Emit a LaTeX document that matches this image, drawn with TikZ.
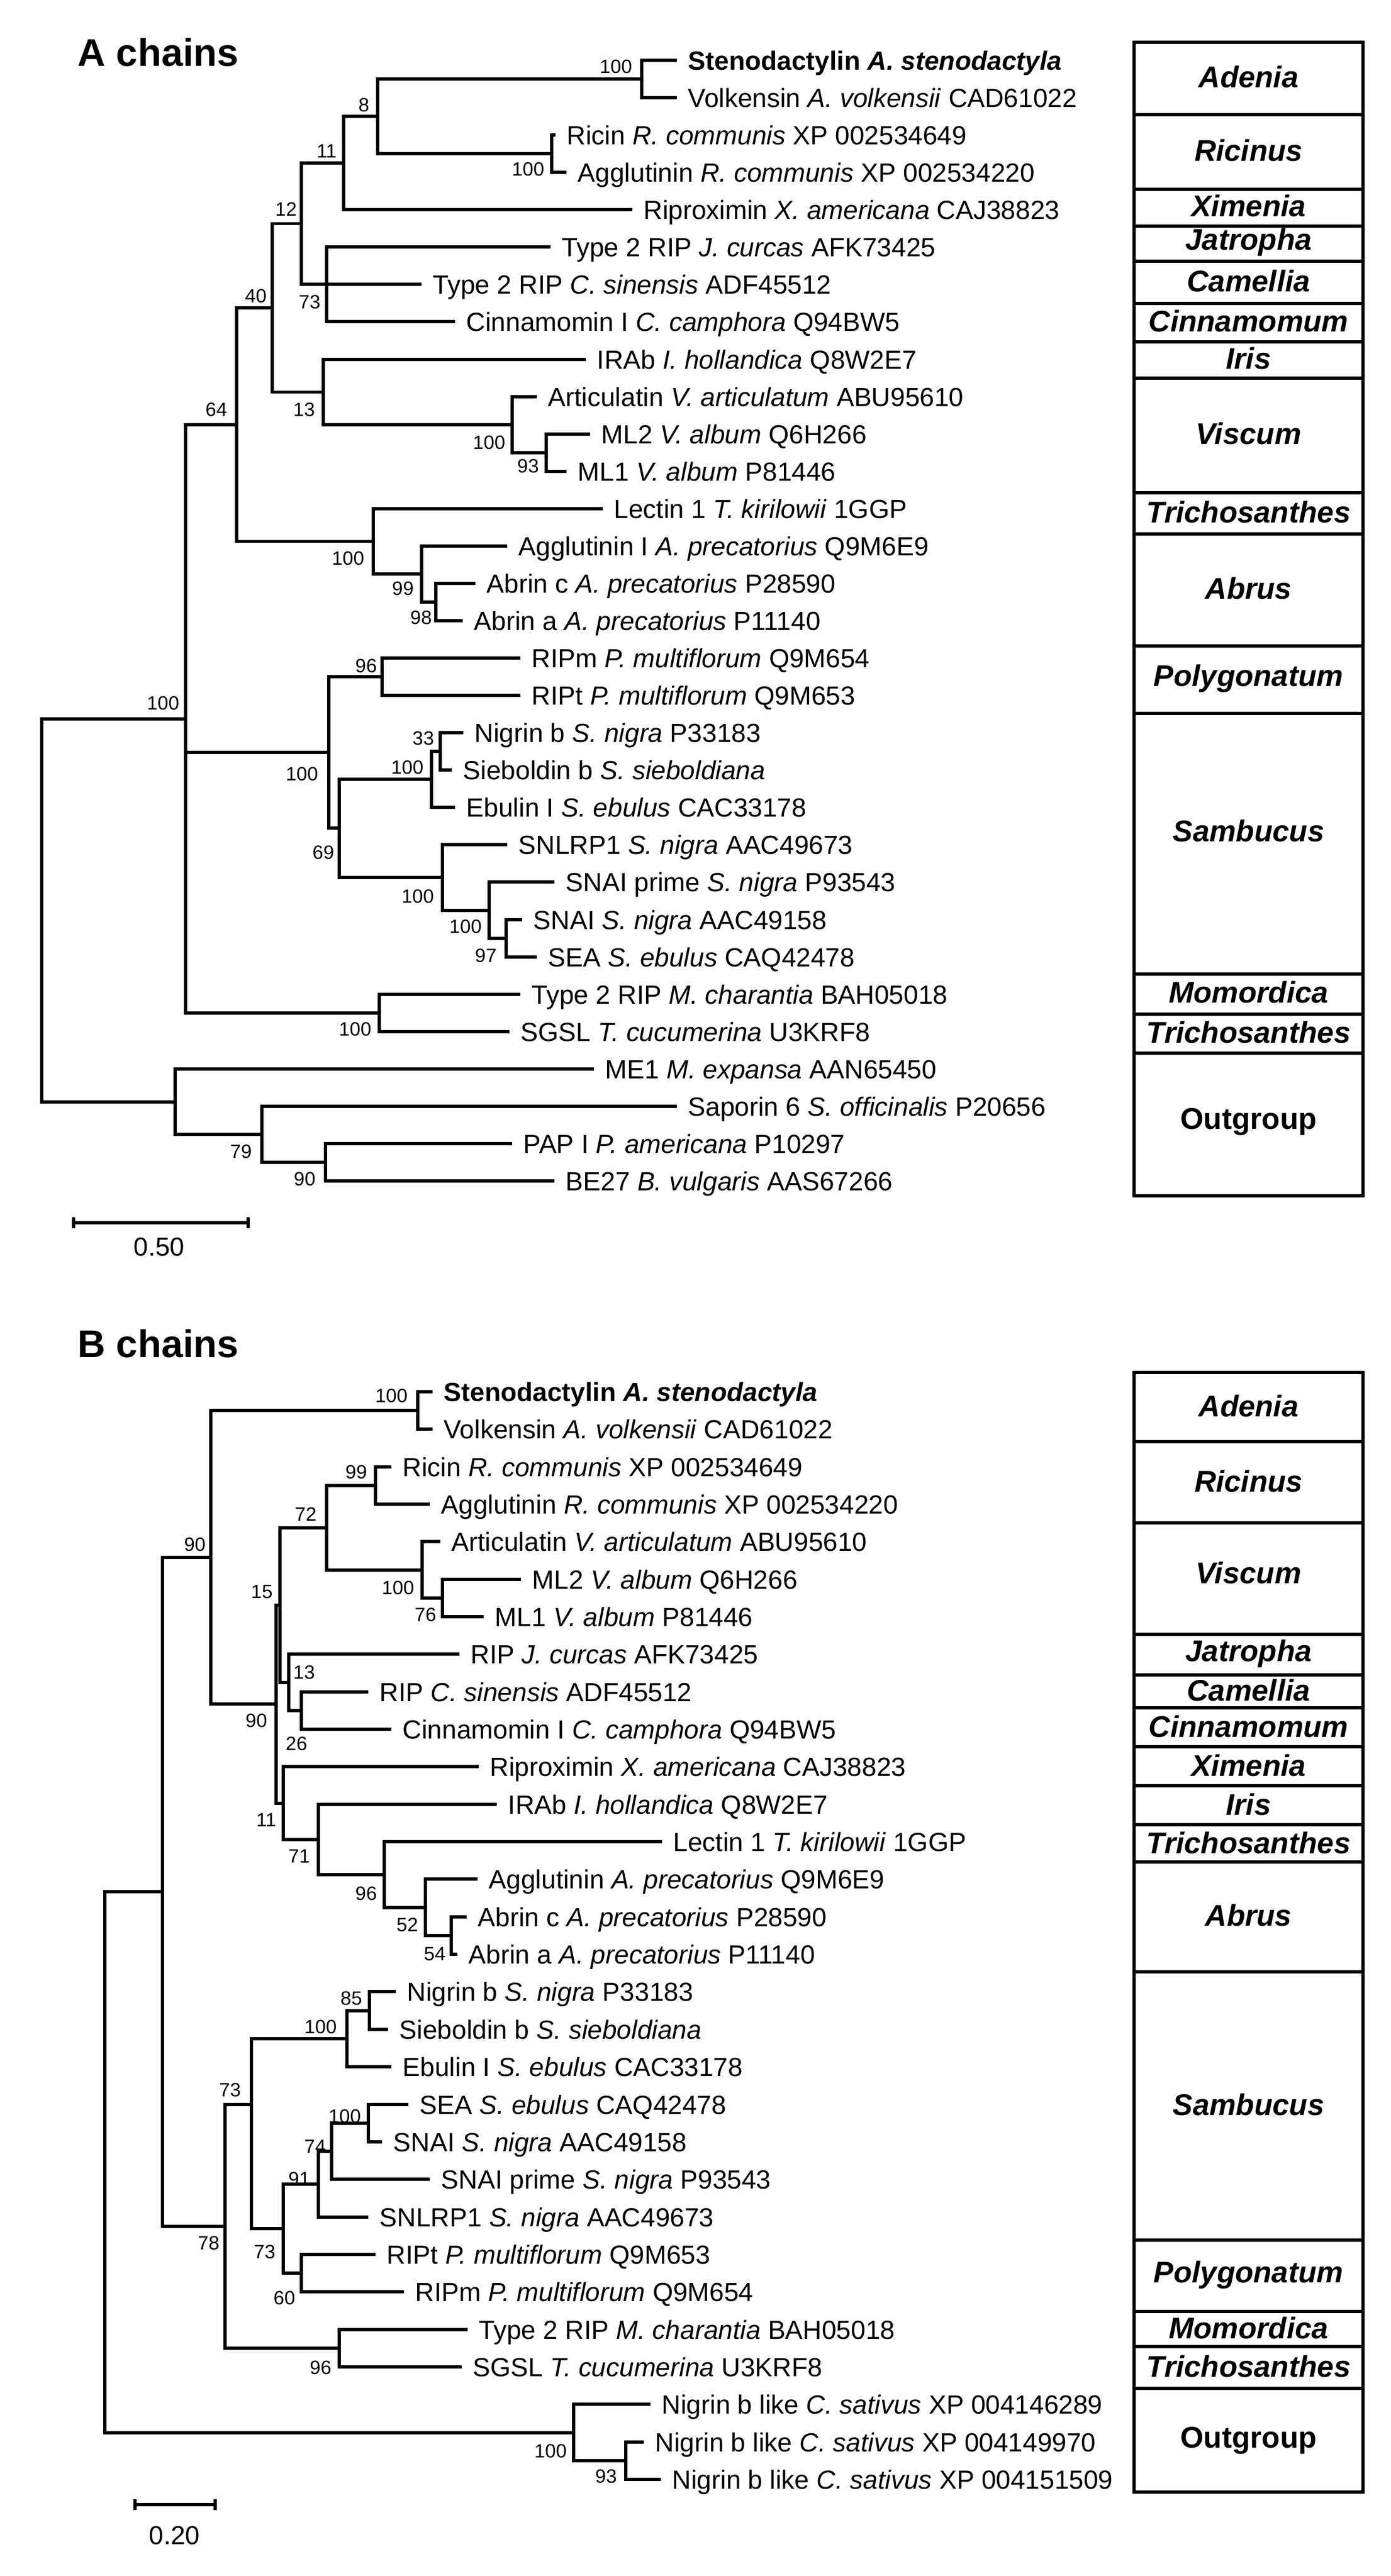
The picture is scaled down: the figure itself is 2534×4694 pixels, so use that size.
\documentclass[tikz,border=0pt]{standalone}
\usepackage{fontspec}
\setmainfont{Liberation Sans}
\begin{document}
\begin{tikzpicture}[x=0.01cm,y=-0.01cm,
  br/.style={line width=1.7pt,line join=miter},
  lf/.style={anchor=west,inner xsep=0.2cm,inner ysep=0pt,text height=0.34cm,text depth=0pt,font=\fontsize{13.6}{16}\selectfont},
  bs/.style={inner sep=0pt,font=\fontsize{10}{12}\selectfont},
  gl/.style={inner sep=0pt,font=\bfseries\itshape\fontsize{15.5}{18}\selectfont},
  ttl/.style={anchor=base west,inner sep=0pt,font=\bfseries\fontsize{20}{24}\selectfont},
  bx/.style={line width=1.7pt}]
\useasboundingbox (0,0) rectangle (2534,4694);
\fill[white] (0,0) rectangle (2534,4694);
% ================= A chains =================
\node[ttl] (tA) at (141,121) {A chains};
\node[lf] (a1) at (1233,110) {\textbf{Stenodactylin \textit{A. stenodactyla}}};
\node[lf] (a2) at (1233,178) {Volkensin \textit{A. volkensii} CAD61022};
\node[lf] (a3) at (1012,246) {Ricin \textit{R. communis} XP 002534649};
\node[lf] (a4) at (1032,314) {Agglutinin \textit{R. communis} XP 002534220};
\node[lf] (a5) at (1152,382) {Riproximin \textit{X. americana} CAJ38823};
\node[lf] (a6) at (1003,450) {Type 2 RIP \textit{J. curcas} AFK73425};
\node[lf] (a7) at (768,518) {Type 2 RIP \textit{C. sinensis} ADF45512};
\node[lf] (a8) at (829,586) {Cinnamomin I \textit{C. camphora} Q94BW5};
\node[lf] (a9) at (1067,655) {IRAb \textit{I. hollandica} Q8W2E7};
\node[lf] (a10) at (978,723) {Articulatin \textit{V. articulatum} ABU95610};
\node[lf] (a11) at (1075,791) {ML2 \textit{V. album} Q6H266};
\node[lf] (a12) at (1032,859) {ML1 \textit{V. album} P81446};
\node[lf] (a13) at (1098,927) {Lectin 1 \textit{T. kirilowii} 1GGP};
\node[lf] (a14) at (924,995) {Agglutinin I \textit{A. precatorius} Q9M6E9};
\node[lf] (a15) at (866,1063) {Abrin c \textit{A. precatorius} P28590};
\node[lf] (a16) at (843,1131) {Abrin a \textit{A. precatorius} P11140};
\node[lf] (a17) at (948,1199) {RIPm \textit{P. multiflorum} Q9M654};
\node[lf] (a18) at (948,1267) {RIPt \textit{P. multiflorum} Q9M653};
\node[lf] (a19) at (844,1335) {Nigrin b \textit{S. nigra} P33183};
\node[lf] (a20) at (823,1403) {Sieboldin b \textit{S. sieboldiana}};
\node[lf] (a21) at (829,1471) {Ebulin I \textit{S. ebulus} CAC33178};
\node[lf] (a22) at (924,1539) {SNLRP1 \textit{S. nigra} AAC49673};
\node[lf] (a23) at (1010,1607) {SNAI prime \textit{S. nigra} P93543};
\node[lf] (a24) at (951,1676) {SNAI \textit{S. nigra} AAC49158};
\node[lf] (a25) at (978,1744) {SEA \textit{S. ebulus} CAQ42478};
\node[lf] (a26) at (948,1812) {Type 2 RIP \textit{M. charantia} BAH05018};
\node[lf] (a27) at (928,1880) {SGSL \textit{T. cucumerina} U3KRF8};
\node[lf] (a28) at (1082,1948) {ME1 \textit{M. expansa} AAN65450};
\node[lf] (a29) at (1233,2016) {Saporin 6 \textit{S. officinalis} P20656};
\node[lf] (a30) at (933,2084) {PAP I \textit{P. americana} P10297};
\node[lf] (a31) at (1010,2152) {BE27 \textit{B. vulgaris} AAS67266};
\coordinate (Ad) at (1169,144);
\coordinate (Ri) at (1005,280);
\coordinate (A8) at (688,212);
\coordinate (A11) at (626,297);
\coordinate (A73) at (595,518);
\coordinate (A12) at (549,407.5);
\coordinate (A93) at (995,825);
\coordinate (AVi) at (933,774);
\coordinate (A13) at (589,714.5);
\coordinate (A40) at (496,561);
\coordinate (A98) at (794,1097);
\coordinate (A99) at (768,1046);
\coordinate (AAb) at (680,986.5);
\coordinate (A64) at (431,773.75);
\coordinate (A96) at (696,1233);
\coordinate (A33) at (802,1369);
\coordinate (AS1) at (786,1420);
\coordinate (A97) at (922,1710);
\coordinate (AS3) at (891,1658.5);
\coordinate (AS2) at (806,1598.75);
\coordinate (A69) at (618,1509.4);
\coordinate (APS) at (599,1371.2);
\coordinate (AMo) at (691,1846);
\coordinate (AIn) at (338,1309.9);
\coordinate (A90) at (593,2118);
\coordinate (A79) at (477,2067);
\coordinate (AOut) at (319,2007.5);
\coordinate (ARoot) at (76,1658.7);
\draw[br] (Ad) |- (a1.west); \draw[br] (Ad) |- (a2.west);
\draw[br] (Ri) |- (a3.west); \draw[br] (Ri) |- (a4.west);
\draw[br] (A8) |- (Ad); \draw[br] (A8) |- (Ri);
\draw[br] (A11) |- (A8); \draw[br] (A11) |- (a5.west);
\draw[br] (A73) |- (a6.west); \draw[br] (A73) |- (a7.west); \draw[br] (A73) |- (a8.west);
\draw[br] (A12) |- (A11); \draw[br] (A12) |- (A73);
\draw[br] (A93) |- (a11.west); \draw[br] (A93) |- (a12.west);
\draw[br] (AVi) |- (a10.west); \draw[br] (AVi) |- (A93);
\draw[br] (A13) |- (a9.west); \draw[br] (A13) |- (AVi);
\draw[br] (A40) |- (A12); \draw[br] (A40) |- (A13);
\draw[br] (A98) |- (a15.west); \draw[br] (A98) |- (a16.west);
\draw[br] (A99) |- (a14.west); \draw[br] (A99) |- (A98);
\draw[br] (AAb) |- (a13.west); \draw[br] (AAb) |- (A99);
\draw[br] (A64) |- (A40); \draw[br] (A64) |- (AAb);
\draw[br] (A96) |- (a17.west); \draw[br] (A96) |- (a18.west);
\draw[br] (A33) |- (a19.west); \draw[br] (A33) |- (a20.west);
\draw[br] (AS1) |- (A33); \draw[br] (AS1) |- (a21.west);
\draw[br] (A97) |- (a24.west); \draw[br] (A97) |- (a25.west);
\draw[br] (AS3) |- (a23.west); \draw[br] (AS3) |- (A97);
\draw[br] (AS2) |- (a22.west); \draw[br] (AS2) |- (AS3);
\draw[br] (A69) |- (AS1); \draw[br] (A69) |- (AS2);
\draw[br] (APS) |- (A96); \draw[br] (APS) |- (A69);
\draw[br] (AMo) |- (a26.west); \draw[br] (AMo) |- (a27.west);
\draw[br] (AIn) |- (A64); \draw[br] (AIn) |- (APS); \draw[br] (AIn) |- (AMo);
\draw[br] (A90) |- (a30.west); \draw[br] (A90) |- (a31.west);
\draw[br] (A79) |- (a29.west); \draw[br] (A79) |- (A90);
\draw[br] (AOut) |- (a28.west); \draw[br] (AOut) |- (A79);
\draw[br] (ARoot) |- (AIn); \draw[br] (ARoot) |- (AOut);
% bootstrap A
\node[bs] (ba1) at (1122,121) {100};
\node[bs] (ba2) at (962,308) {100};
\node[bs] (ba3) at (663,191) {8};
\node[bs] (ba4) at (595,275) {11};
\node[bs] (ba5) at (521,381) {12};
\node[bs] (ba6) at (466,539) {40};
\node[bs] (ba7) at (394,746) {64};
\node[bs] (ba8) at (564,550) {73};
\node[bs] (ba9) at (554,746) {13};
\node[bs] (ba10) at (891,806) {100};
\node[bs] (ba11) at (962,849) {93};
\node[bs] (ba12) at (634,1017) {100};
\node[bs] (ba13) at (734,1072) {99};
\node[bs] (ba14) at (767,1125) {98};
\node[bs] (ba15) at (667,1213) {96};
\node[bs] (ba16) at (297,1281) {100};
\node[bs] (ba17) at (550,1410) {100};
\node[bs] (ba18) at (589,1553) {69};
\node[bs] (ba19) at (771,1345) {33};
\node[bs] (ba20) at (742,1398) {100};
\node[bs] (ba21) at (761,1633) {100};
\node[bs] (ba22) at (848,1688) {100};
\node[bs] (ba23) at (885,1741) {97};
\node[bs] (ba24) at (647,1875) {100};
\node[bs] (ba25) at (439,2098) {79};
\node[bs] (ba26) at (555,2148) {90};
% scale A
\coordinate (sA1) at (134,2228); \coordinate (sA2) at (452,2228);
\draw[br] (sA1) -- (sA2);
\draw[br] ([yshift=0.1cm]sA1) -- ([yshift=-0.1cm]sA1);
\draw[br] ([yshift=0.1cm]sA2) -- ([yshift=-0.1cm]sA2);
\node[inner sep=0pt,font=\fontsize{13.5}{16}\selectfont] (sAl) at (290,2272) {0.50};
% box A
\draw[bx] (2066,77) rectangle (2483,2179);
\foreach \yy in {209,345,412,476,553,623,689,898,973,1177,1300,1775,1848,1919}
  \draw[bx] (2066,\yy) -- (2483,\yy);
\node[gl] (gA1) at (2274.5,140) {Adenia};
\node[gl] (gA2) at (2274.5,274) {Ricinus};
\node[gl] (gA3) at (2274.5,375) {Ximenia};
\node[gl] (gA4) at (2274.5,441) {Jatropha};
\node[gl] (gA5) at (2274.5,512) {Camellia};
\node[gl] (gA6) at (2274.5,585) {Cinnamomum};
\node[gl] (gA7) at (2274.5,653) {Iris};
\node[gl] (gA8) at (2274.5,790) {Viscum};
\node[gl] (gA9) at (2274.5,933) {Trichosanthes};
\node[gl] (gA10) at (2274.5,1072) {Abrus};
\node[gl] (gA11) at (2274.5,1236) {Polygonatum};
\node[gl] (gA12) at (2274.5,1514) {Sambucus};
\node[gl] (gA13) at (2274.5,1808) {Momordica};
\node[gl] (gA14) at (2274.5,1881) {Trichosanthes};
\node[inner sep=0pt,font=\bfseries\fontsize{15.5}{18}\selectfont] (gA15) at (2274.5,2044) {Outgroup};
% ================= B chains =================
\node[ttl] (tB) at (141,2473) {B chains};
\node[lf] (b1) at (788,2536) {\textbf{Stenodactylin \textit{A. stenodactyla}}};
\node[lf] (b2) at (788,2604) {Volkensin \textit{A. volkensii} CAD61022};
\node[lf] (b3) at (713,2673) {Ricin \textit{R. communis} XP 002534649};
\node[lf] (b4) at (783,2741) {Agglutinin \textit{R. communis} XP 002534220};
\node[lf] (b5) at (802,2809) {Articulatin \textit{V. articulatum} ABU95610};
\node[lf] (b6) at (949,2878) {ML2 \textit{V. album} Q6H266};
\node[lf] (b7) at (881,2946) {ML1 \textit{V. album} P81446};
\node[lf] (b8) at (837,3014) {RIP \textit{J. curcas} AFK73425};
\node[lf] (b9) at (671,3083) {RIP \textit{C. sinensis} ADF45512};
\node[lf] (b10) at (713,3151) {Cinnamomin I \textit{C. camphora} Q94BW5};
\node[lf] (b11) at (872,3219) {Riproximin \textit{X. americana} CAJ38823};
\node[lf] (b12) at (905,3288) {IRAb \textit{I. hollandica} Q8W2E7};
\node[lf] (b13) at (1206,3356) {Lectin 1 \textit{T. kirilowii} 1GGP};
\node[lf] (b14) at (870,3424) {Agglutinin \textit{A. precatorius} Q9M6E9};
\node[lf] (b15) at (850,3493) {Abrin c \textit{A. precatorius} P28590};
\node[lf] (b16) at (833,3561) {Abrin a \textit{A. precatorius} P11140};
\node[lf] (b17) at (721,3629) {Nigrin b \textit{S. nigra} P33183};
\node[lf] (b18) at (707,3698) {Sieboldin b \textit{S. sieboldiana}};
\node[lf] (b19) at (713,3766) {Ebulin I \textit{S. ebulus} CAC33178};
\node[lf] (b20) at (744,3835) {SEA \textit{S. ebulus} CAQ42478};
\node[lf] (b21) at (696,3903) {SNAI \textit{S. nigra} AAC49158};
\node[lf] (b22) at (783,3971) {SNAI prime \textit{S. nigra} P93543};
\node[lf] (b23) at (671,4040) {SNLRP1 \textit{S. nigra} AAC49673};
\node[lf] (b24) at (684,4108) {RIPt \textit{P. multiflorum} Q9M653};
\node[lf] (b25) at (736,4176) {RIPm \textit{P. multiflorum} Q9M654};
\node[lf] (b26) at (852,4245) {Type 2 RIP \textit{M. charantia} BAH05018};
\node[lf] (b27) at (841,4313) {SGSL \textit{T. cucumerina} U3KRF8};
\node[lf] (b28) at (1185,4381) {Nigrin b like \textit{C. sativus} XP 004146289};
\node[lf] (b29) at (1173,4450) {Nigrin b like \textit{C. sativus} XP 004149970};
\node[lf] (b30) at (1204,4518) {Nigrin b like \textit{C. sativus} XP 004151509};
\coordinate (BAd) at (761,2570);
\coordinate (B99) at (684,2707);
\coordinate (B76) at (806,2912);
\coordinate (BVi) at (769,2860.5);
\coordinate (B72) at (595,2783.75);
\coordinate (B26) at (549,3117);
\coordinate (B13) at (526,3065.5);
\coordinate (B54) at (822,3527);
\coordinate (B52) at (775,3475.5);
\coordinate (B96) at (700,3415.75);
\coordinate (B71) at (580,3351.9);
\coordinate (B11) at (516,3285.5);
\coordinate (B15) at (510,2924.6);
\coordinate (B90b) at (503,3105);
\coordinate (BTop) at (384,2837.5);
\coordinate (B85) at (673,3663.5);
\coordinate (BS) at (632,3714.75);
\coordinate (BSea) at (671,3869);
\coordinate (B74) at (604,3920);
\coordinate (B91) at (580,3980);
\coordinate (B60) at (549,4142);
\coordinate (B73b) at (516,4061);
\coordinate (B73a) at (458,3835);
\coordinate (BMo) at (618,4279);
\coordinate (BX) at (410,4057);
\coordinate (BBig) at (296,3447);
\coordinate (B93) at (1140,4484);
\coordinate (BOut) at (1045,4432.5);
\coordinate (BRoot) at (191,3940);
\draw[br] (BAd) |- (b1.west); \draw[br] (BAd) |- (b2.west);
\draw[br] (B99) |- (b3.west); \draw[br] (B99) |- (b4.west);
\draw[br] (B76) |- (b6.west); \draw[br] (B76) |- (b7.west);
\draw[br] (BVi) |- (b5.west); \draw[br] (BVi) |- (B76);
\draw[br] (B72) |- (B99); \draw[br] (B72) |- (BVi);
\draw[br] (B26) |- (b9.west); \draw[br] (B26) |- (b10.west);
\draw[br] (B13) |- (b8.west); \draw[br] (B13) |- (B26);
\draw[br] (B54) |- (b15.west); \draw[br] (B54) |- (b16.west);
\draw[br] (B52) |- (b14.west); \draw[br] (B52) |- (B54);
\draw[br] (B96) |- (b13.west); \draw[br] (B96) |- (B52);
\draw[br] (B71) |- (b12.west); \draw[br] (B71) |- (B96);
\draw[br] (B11) |- (b11.west); \draw[br] (B11) |- (B71);
\draw[br] (B15) |- (B72); \draw[br] (B15) |- (B13);
\draw[br] (B90b) |- (B15); \draw[br] (B90b) |- (B11);
\draw[br] (BTop) |- (BAd); \draw[br] (BTop) |- (B90b);
\draw[br] (B85) |- (b17.west); \draw[br] (B85) |- (b18.west);
\draw[br] (BS) |- (B85); \draw[br] (BS) |- (b19.west);
\draw[br] (BSea) |- (b20.west); \draw[br] (BSea) |- (b21.west);
\draw[br] (B74) |- (BSea); \draw[br] (B74) |- (b22.west);
\draw[br] (B91) |- (B74); \draw[br] (B91) |- (b23.west);
\draw[br] (B60) |- (b24.west); \draw[br] (B60) |- (b25.west);
\draw[br] (B73b) |- (B91); \draw[br] (B73b) |- (B60);
\draw[br] (B73a) |- (BS); \draw[br] (B73a) |- (B73b);
\draw[br] (BMo) |- (b26.west); \draw[br] (BMo) |- (b27.west);
\draw[br] (BX) |- (B73a); \draw[br] (BX) |- (BMo);
\draw[br] (BBig) |- (BTop); \draw[br] (BBig) |- (BX);
\draw[br] (B93) |- (b29.west); \draw[br] (B93) |- (b30.west);
\draw[br] (BOut) |- (b28.west); \draw[br] (BOut) |- (B93);
\draw[br] (BRoot) |- (BBig); \draw[br] (BRoot) |- (BOut);
% bootstrap B
\node[bs] (bb1) at (713,2543) {100};
\node[bs] (bb2) at (355,2814) {90};
\node[bs] (bb3) at (649,2682) {99};
\node[bs] (bb4) at (557,2759) {72};
\node[bs] (bb5) at (477,2901) {15};
\node[bs] (bb6) at (725,2893) {100};
\node[bs] (bb7) at (775,2942) {76};
\node[bs] (bb8) at (554,3047) {13};
\node[bs] (bb9) at (467,3135) {90};
\node[bs] (bb10) at (540,3177) {26};
\node[bs] (bb11) at (485,3316) {11};
\node[bs] (bb12) at (545,3382) {71};
\node[bs] (bb13) at (667,3450) {96};
\node[bs] (bb14) at (742,3507) {52};
\node[bs] (bb15) at (792,3561) {54};
\node[bs] (bb16) at (640,3641) {85};
\node[bs] (bb17) at (584,3693) {100};
\node[bs] (bb18) at (419,3808) {73};
\node[bs] (bb19) at (628,3856) {100};
\node[bs] (bb20) at (574,3911) {74};
\node[bs] (bb21) at (545,3970) {91};
\node[bs] (bb22) at (380,4087) {78};
\node[bs] (bb23) at (482,4103) {73};
\node[bs] (bb24) at (518,4187) {60};
\node[bs] (bb25) at (584,4314) {96};
\node[bs] (bb26) at (1003,4466) {100};
\node[bs] (bb27) at (1104,4512) {93};
% scale B
\coordinate (sB1) at (246,4564); \coordinate (sB2) at (392,4564);
\draw[br] (sB1) -- (sB2);
\draw[br] ([yshift=0.1cm]sB1) -- ([yshift=-0.1cm]sB1);
\draw[br] ([yshift=0.1cm]sB2) -- ([yshift=-0.1cm]sB2);
\node[inner sep=0pt,font=\fontsize{13.5}{16}\selectfont] (sBl) at (318,4620) {0.20};
% box B
\draw[bx] (2066,2501) rectangle (2483,4541);
\foreach \yy in {2627,2775,2978,3052,3112,3183,3254,3325,3393,3593,4082,4212,4276,4352}
  \draw[bx] (2066,\yy) -- (2483,\yy);
\node[gl] (gB1) at (2274.5,2562) {Adenia};
\node[gl] (gB2) at (2274.5,2699) {Ricinus};
\node[gl] (gB3) at (2274.5,2866) {Viscum};
\node[gl] (gB4) at (2274.5,3013) {Jatropha};
\node[gl] (gB5) at (2274.5,3080) {Camellia};
\node[gl] (gB6) at (2274.5,3146) {Cinnamomum};
\node[gl] (gB7) at (2274.5,3217) {Ximenia};
\node[gl] (gB8) at (2274.5,3288) {Iris};
\node[gl] (gB9) at (2274.5,3358) {Trichosanthes};
\node[gl] (gB10) at (2274.5,3490) {Abrus};
\node[gl] (gB11) at (2274.5,3835) {Sambucus};
\node[gl] (gB12) at (2274.5,4145) {Polygonatum};
\node[gl] (gB13) at (2274.5,4242) {Momordica};
\node[gl] (gB14) at (2274.5,4312) {Trichosanthes};
\node[inner sep=0pt,font=\bfseries\fontsize{15.5}{18}\selectfont] (gB15) at (2274.5,4447) {Outgroup};
\end{tikzpicture}
\end{document}
